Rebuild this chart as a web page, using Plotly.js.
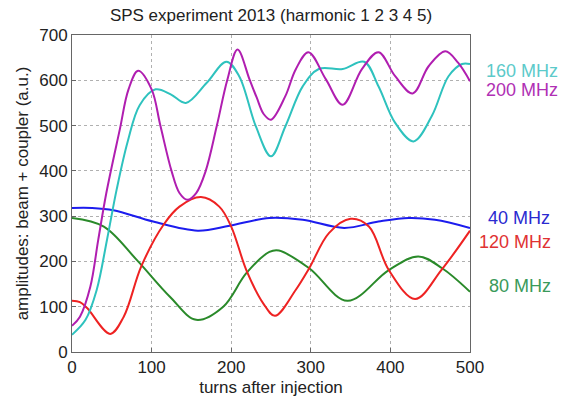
<!DOCTYPE html>
<html>
<head>
<meta charset="utf-8">
<script src="https://cdn.plot.ly/plotly-3.0.1.min.js"></script>
<style>html,body{margin:0;padding:0;background:#fff;}#chart{width:561px;height:399px;}</style>
</head>
<body>
<div id="chart"></div>
<script>
// 200 MHz (magenta)
const x200 = [0, 10, 23, 33, 43, 60, 71, 83, 100, 111, 125, 135, 145, 156, 168, 182, 195, 208, 223, 232, 241, 250, 268, 281, 297, 319, 340, 364, 385, 406, 428, 448, 469, 485, 500];
const y200 = [58, 78, 144, 248, 350, 491, 580, 621, 580, 500, 400, 351, 336, 351, 400, 500, 600, 668, 602, 562, 525, 513, 565, 624, 662, 602, 546, 624, 662, 609, 571, 631, 664, 639, 598];
// 160 MHz (cyan)
const x160 = [0, 17, 31, 44, 56, 70, 85, 105, 124, 143, 169, 194, 210, 231, 250, 268, 290, 310, 340, 367, 385, 406, 429, 452, 473, 490, 500];
const y160 = [38, 71, 137, 248, 358, 465, 545, 580, 569, 550, 594, 641, 609, 498, 432, 498, 587, 625, 625, 641, 587, 506, 465, 521, 609, 636, 636];
// 40 MHz (blue)
const x40 = [0, 25, 52, 102, 158, 198, 248, 290, 342, 385, 423, 456, 500];
const y40 = [318, 318, 313, 288, 268, 279, 296, 292, 274, 288, 296, 292, 274];
// 120 MHz (red)
const x120 = [0, 10, 19, 48, 65, 87, 115, 135, 162, 185, 200, 219, 240, 255, 281, 298, 323, 350, 373, 398, 431, 464, 500];
const y120 = [113, 110, 97, 40, 78, 189, 281, 321, 342, 321, 277, 181, 108, 80, 137, 185, 263, 294, 277, 181, 117, 181, 268];
// 80 MHz (green)
const x80 = [0, 40, 81, 123, 156, 190, 219, 248, 260, 298, 346, 398, 435, 465, 500];
const y80 = [296, 277, 204, 122, 71, 100, 174, 221, 224, 185, 113, 181, 211, 185, 133];

const seriesNames = ['160 MHz', '200 MHz', '40 MHz', '120 MHz', '80 MHz'];
const lineColors = ['#2ec2be', '#b01eb0', '#1c1cee', '#ee2222', '#2a8a2a'];
const labelColors = ['#5ccaca', '#b030b4', '#2a2ad0', '#e03232', '#3a9a5a'];
const labelRight = [560, 560, 552, 553, 553];
const labelY = [70.7, 90, 218, 242, 286];

const xs = [x160, x200, x40, x120, x80];
const ys = [y160, y200, y40, y120, y80];

const L = 72, R = 91, T = 35, B = 47, W = 561, H = 399;
const pw = W - L - R, ph = H - T - B;

const traces = xs.map((x, i) => ({
  x: x, y: ys[i], type: 'scatter', mode: 'lines', name: seriesNames[i],
  line: {color: lineColors[i], width: 2, shape: 'spline', smoothing: 1},
  hoverinfo: 'skip'
}));
// draw order: blue, green, red, cyan, magenta
const order = [2, 4, 3, 0, 1];
const data = order.map(i => traces[i]);

const annotations = seriesNames.map((n, i) => ({
  text: n, xref: 'paper', yref: 'paper',
  x: (labelRight[i] - L) / pw, y: (H - B - labelY[i]) / ph,
  xanchor: 'right', yanchor: 'middle', showarrow: false,
  font: {family: 'Liberation Sans, Arial, sans-serif', size: 18, color: labelColors[i]}
}));

const axisCommon = {
  showgrid: true, gridcolor: '#b0b0b0', griddash: 'dot', gridwidth: 1,
  showline: true, linecolor: '#666', linewidth: 1, mirror: true,
  ticks: 'inside', ticklen: 4, tickcolor: '#666',
  zeroline: false, fixedrange: true,
  tickfont: {family: 'Liberation Sans, Arial, sans-serif', size: 17, color: '#222'}
};

const layout = {
  width: W, height: H,
  margin: {l: L, r: R, t: T, b: B, pad: 0},
  paper_bgcolor: '#fff', plot_bgcolor: '#fff',
  showlegend: false,
  font: {family: 'Liberation Sans, Arial, sans-serif', size: 17, color: '#222'},
  title: {text: 'SPS experiment 2013 (harmonic 1 2 3 4 5)', font: {size: 17, color: '#222'},
          x: 0.5, xref: 'paper', xanchor: 'center', y: 1 - 15 / H, yref: 'container', yanchor: 'middle'},
  xaxis: Object.assign({}, axisCommon, {
    range: [0, 500], tickvals: [0, 100, 200, 300, 400, 500],
    title: {text: 'turns after injection', font: {size: 17, color: '#222'}, standoff: 4}
  }),
  yaxis: Object.assign({}, axisCommon, {
    range: [0, 700], tickvals: [0, 100, 200, 300, 400, 500, 600, 700],
    title: {text: 'amplitudes: beam + coupler (a.u.)', font: {size: 17, color: '#222'}, standoff: 6}
  }),
  annotations: annotations
};

Plotly.newPlot('chart', data, layout, {displayModeBar: false, staticPlot: true});
</script>
</body>
</html>
